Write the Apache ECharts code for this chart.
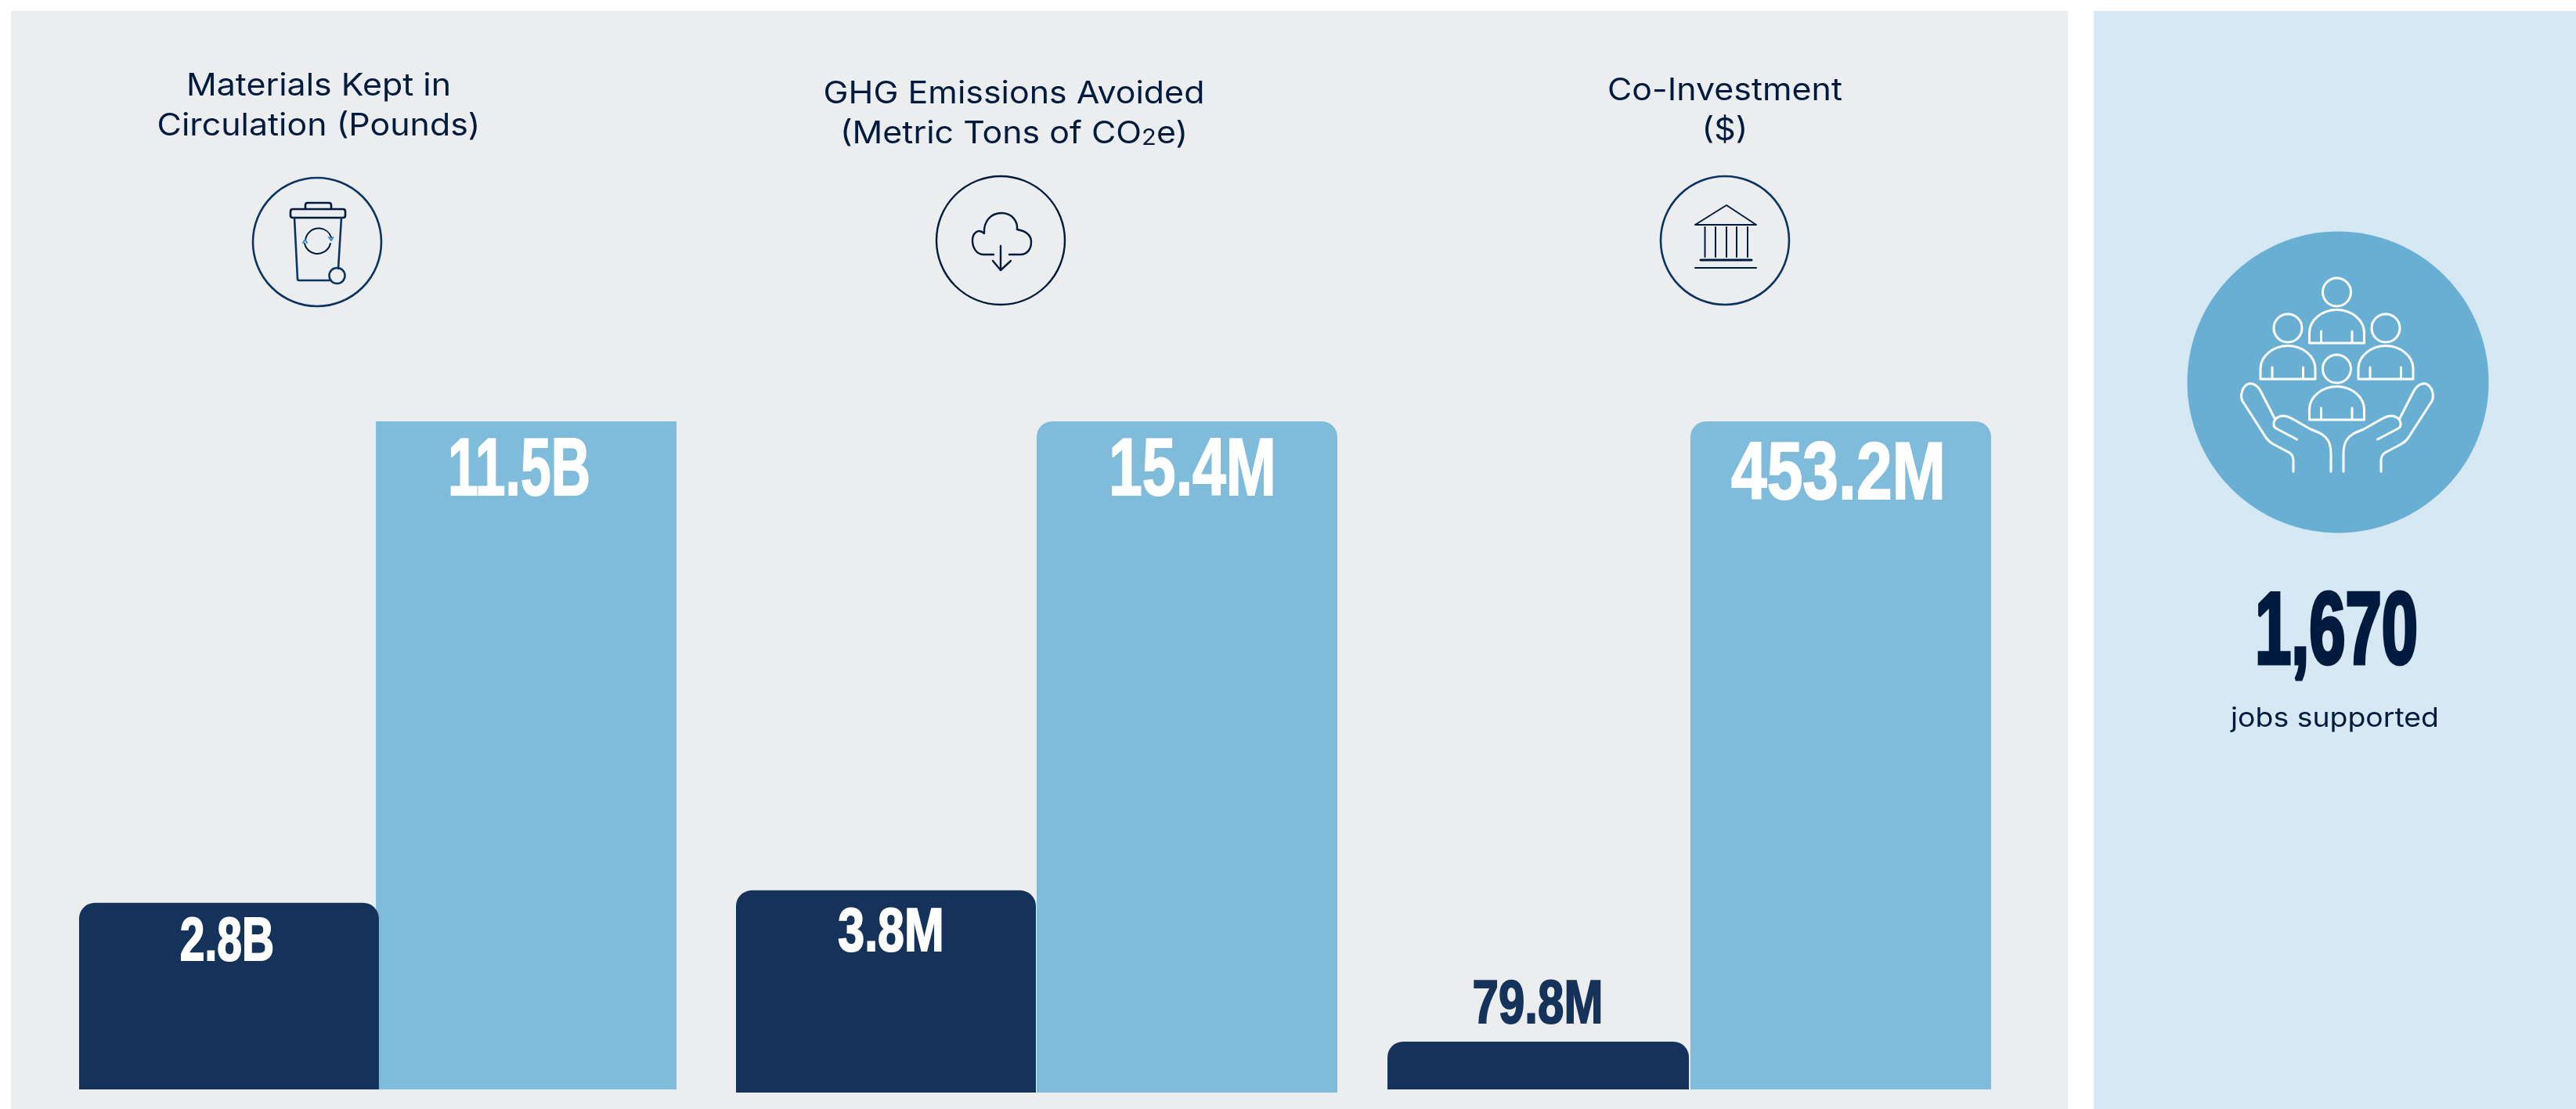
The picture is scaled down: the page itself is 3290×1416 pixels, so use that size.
<!DOCTYPE html>
<html><head><meta charset="utf-8">
<style>html,body{margin:0;padding:0;background:#fff}#c{width:3290px;height:1416px}</style>
<script src="https://cdn.jsdelivr.net/npm/echarts@6/dist/echarts.min.js"></script>
</head><body><div id="c"></div>
<script>
// ---- chart values ----
const metricLines = [
  ['Materials Kept in', 'Circulation (Pounds)'],
  ['GHG Emissions Avoided', '(Metric Tons of CO{s|2}e)'],
  ['Co-Investment', '($)']
];
const shortValues = [2.8e9, 3.8e6, 79.8e6];
const tallValues = [11.5e9, 15.4e6, 453.2e6];
const shortLabels = ['2.8B', '3.8M', '79.8M'];
const tallLabels = ['11.5B', '15.4M', '453.2M'];
const jobsValue = '1,670';
const jobsCaption = 'jobs supported';
// the source graphic is not drawn to a zero baseline: each panel's axis starts here
const axisStarts = [-0.57e9, -1.2e6, 51e6];

const DARK = '#15325a', LIGHT = '#7fbbda', INK = '#001b3d', RING = '#0b3560';
const LABEL_FONT = '"Liberation Sans"', TEXT_FONT = 'Inter';

const grids = [
  {left: 101, width: 763, top: 538, height: 853},
  {left: 940, width: 768, top: 538, height: 857},
  {left: 1772, width: 771, top: 538, height: 853}
];
const widths = [[383, 384], [383, 384], [385, 384]];
const gaps = ['-1%', '0.26%', '0.5%'];
const tallRadius = [0, 20, 20];
// label placement relative to the top centre of the panel: [dx, dy from bar top, font px, x squeeze, colour]
const shortLabelStyle = [
  {dx: -192.5, dy: 52, size: 78, sx: 0.73, color: '#fff'},
  {dx: -186, dy: 56, size: 78, sx: 0.78, color: '#fff'},
  {dx: -193.5, dy: -45, size: 78, sx: 0.77, color: DARK}
];
const tallLabelStyle = [
  {dx: 180.5, dy: 65, size: 104, sx: 0.67, color: '#fff'},
  {dx: 199, dy: 65, size: 104, sx: 0.74, color: '#fff'},
  {dx: 190.5, dy: 70, size: 104, sx: 0.79, color: '#fff'}
];

const labelSeries = (i, name, value, text, st) => ({
  type: 'custom', name, coordinateSystem: 'cartesian2d', xAxisIndex: i, yAxisIndex: i, z: 6, silent: true, clip: false,
  encode: {x: 0, y: 1}, data: [[0, value]],
  renderItem: (params, api) => {
    const p = api.coord([api.value(0), api.value(1)]);
    return {type: 'text', x: p[0] + st.dx, y: p[1] + st.dy, scaleX: st.sx,
      style: {text, align: 'center', verticalAlign: 'middle', font: 'bold ' + st.size + 'px ' + LABEL_FONT,
        fill: st.color, stroke: st.color, lineWidth: 2}};
  }
});

const series = [];
metricLines.forEach((m, i) => {
  series.push({
    type: 'bar', name: 'Short bar ' + (i + 1), xAxisIndex: i, yAxisIndex: i, z: 3,
    data: [shortValues[i]], barWidth: widths[i][0], barGap: gaps[i],
    itemStyle: {color: DARK, borderRadius: [20, 20, 0, 0]}
  });
  series.push({
    type: 'bar', name: 'Tall bar ' + (i + 1), xAxisIndex: i, yAxisIndex: i, z: 2,
    data: [tallValues[i]], barWidth: widths[i][1], barGap: gaps[i],
    itemStyle: {color: LIGHT, borderRadius: [tallRadius[i], tallRadius[i], 0, 0]}
  });
  series.push(labelSeries(i, 'Short label ' + (i + 1), shortValues[i], shortLabels[i], shortLabelStyle[i]));
  series.push(labelSeries(i, 'Tall label ' + (i + 1), tallValues[i], tallLabels[i], tallLabelStyle[i]));
});

// ---- outline icons (decoration, not data) ----
const line = (d, x, y, stroke, lw, extra) => Object.assign({
  type: 'path', x: x || 0, y: y || 0, silent: true,
  shape: {pathData: d},
  style: {fill: 'none', stroke: stroke, lineWidth: lw, lineCap: 'round', lineJoin: 'round'}
}, extra || {});
const ring = (cx, cy, r, stroke, lw) => ({type: 'circle', silent: true, shape: {cx, cy, r},
  style: {fill: 'none', stroke, lineWidth: lw}});

const PERSON = 'M-35 65V52C-35 35 -18 22.5 0 22.5C18 22.5 35 35 35 52V65Z M-20 50V65 M19.5 50V65';
const person = (x, y) => [ring(x, y, 18, '#fff', 3), line(PERSON, x, y, '#fff', 3)];
const HAND = 'M-56 114V100C-56 94 -58 92 -61 90L-80 80C-88 76 -91 71 -94 66L-121 24C-124 18 -122 5 -113 2C-106 1 -101 6 -98 11L-80 46' +
  ' M-51.5 73L-78 59C-83 56 -82 47 -74 44C-67 41 -60 45 -55 48L-34 60C-24 64 -17 66 -12 74C-8 80 -8 86 -8 92V114';

const icons = [
  ring(405, 309, 82, RING, 2.6),
  line('M390 267V262Q390 259 393 259H420Q423 259 423 262V267 M374 267H438Q441 267 441 270V275Q441 278 438 278H374Q371 278 371 275V270Q371 267 374 267Z', 0, 0, INK, 2.6),
  line('M376 278L380 356Q380 358 382 358H421 M436 278L432 343', 0, 0, RING, 2.6),
  ring(430.5, 352, 10, RING, 2.6),
  line('M390 307A17 17 0 0 1 423 303 M422 311A17 17 0 0 1 389 311', 0, 0, INK, 2),
  line('M420 303L423 307L425.5 303', 0, 0, '#2f8fc8', 2),
  line('M387 310L389.5 306L392 310', 0, 0, '#2f8fc8', 2),

  ring(1278, 307, 82, INK, 2.4),
  line('M1269 325H1256C1247 325 1242 316 1242 307C1242 298 1249 291 1257 298C1256 282 1266 272 1279 272C1292 272 1300 282 1299 293C1310 295 1317 300 1317 309C1317 318 1312 325 1303 325H1289 M1278 314V345 M1268 333L1278 345L1291 333', 0, 0, INK, 2.4),

  ring(2203, 307, 82, RING, 2.6),
  line('M2205 262L2243 287H2165Z M2177.5 290V328 M2191 290V328 M2205 290V328 M2218 290V328 M2232 290V328 M2165 342H2243', 0, 0, INK, 2),
  line('M2172 332H2237', 0, 0, INK, 3),

  ...person(2984.5, 373), ...person(2922, 419), ...person(3047, 419), ...person(2984.5, 471),
  line(HAND, 2985, 488, '#fff', 3),
  line(HAND, 2985, 488, '#fff', 3, {scaleX: -1})
];
series.push({
  type: 'custom', name: 'Icons', coordinateSystem: 'none', data: [0], z: 5, silent: true,
  renderItem: () => ({type: 'group', children: icons})
});

// ---- headings ----
const titleCenters = [[407, 110], [1295, 120], [2203, 116]];
const titleTexts = [];
metricLines.forEach((lines, i) => lines.forEach((txt, k) => titleTexts.push({
  type: 'text', z: 5, silent: true, x: titleCenters[i][0], y: titleCenters[i][1] + k * 51, scaleX: 1.1,
  style: {text: txt, align: 'center', verticalAlign: 'middle', fontFamily: TEXT_FONT, fontWeight: 400, fontSize: 39, fill: INK,
    rich: {s: {fontFamily: TEXT_FONT, fontSize: 28, fill: INK, padding: [12, 0, 0, 0]}}}
})));

const option = {
  animation: false,
  backgroundColor: '#fff',
  tooltip: {show: false},
  grid: grids,
  xAxis: grids.map((g, i) => ({type: 'category', gridIndex: i, data: [metricLines[i][0]], show: false})),
  yAxis: grids.map((g, i) => ({type: 'value', gridIndex: i, show: false, min: axisStarts[i], max: tallValues[i], startValue: axisStarts[i]})),
  series,
  graphic: [
    {type: 'rect', z: -10, silent: true, shape: {x: 14, y: 14, width: 2627, height: 1402}, style: {fill: '#ecedef'}},
    {type: 'rect', z: -10, silent: true, shape: {x: 2674, y: 14, width: 616, height: 1402}, style: {fill: '#d5e8f3'}},
    {type: 'circle', z: -9, silent: true, shape: {cx: 2986, cy: 488, r: 192.5}, style: {fill: '#69afd4'}},
    ...titleTexts,
    {type: 'text', z: 5, x: 2984, y: 811, scaleX: 0.64, silent: true,
      style: {text: jobsValue, align: 'center', verticalAlign: 'middle', font: 'bold 130px ' + LABEL_FONT,
        fill: INK, stroke: INK, lineWidth: 5}},
    {type: 'text', z: 5, x: 2982, y: 918, scaleX: 1.1, silent: true,
      style: {text: jobsCaption, align: 'center', verticalAlign: 'middle', font: '400 34px ' + TEXT_FONT, fill: INK}}
  ]
};
echarts.init(document.getElementById('c'), null, {renderer: 'canvas'}).setOption(option);
</script></body></html>
